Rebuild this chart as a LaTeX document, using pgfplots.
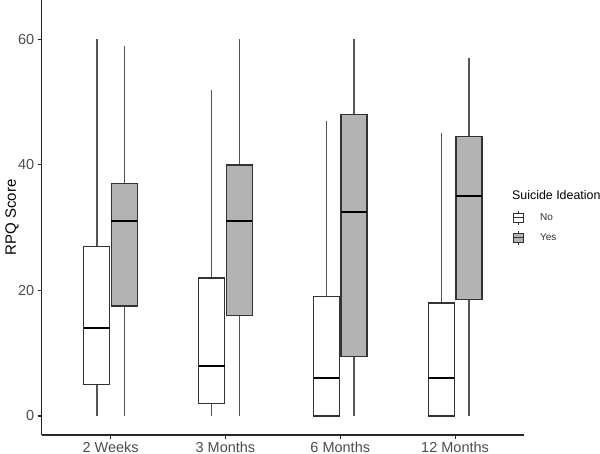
\documentclass[border=0pt]{standalone}
\usepackage{pgfplots}
\pgfplotsset{compat=1.18}
\usepgfplotslibrary{statistics}
\usepackage{fontspec}
\setmainfont{Liberation Sans}
\definecolor{tickgray}{HTML}{4D4D4D}
\definecolor{yesfill}{HTML}{B3B3B3}
\definecolor{boxline}{HTML}{333333}
\definecolor{whisk}{HTML}{555555}
\pgfplotsset{
 nobox/.style={fill=white, draw=boxline, line width=1.3bp, forget plot},
 yesbox/.style={fill=yesfill, draw=boxline, line width=1.3bp, forget plot},
}
\begin{document}
\begin{tikzpicture}
\begin{axis}[
 at={(41.7bp,19bp)}, anchor=south west,
 scale only axis, width=482.3bp, height=435bp,
 xmin=0.4, xmax=4.6, ymin=-3.03, ymax=66.26,
 axis x line*=bottom, axis y line*=left,
 axis line style={line width=1.1bp, black!85},
 xtick={1,2,3,4}, xticklabels={2 Weeks,3 Months,6 Months,12 Months},
 ytick={0,20,40,60},
 tick align=outside, major tick length=4bp,
 tick style={line width=1.1bp, black!85},
 /pgf/number format/assume math mode=true,
 ticklabel style={font=\fontsize{14.5bp}{16bp}\selectfont, text=tickgray},
 xticklabel style={yshift=1bp},
 ylabel={RPQ Score},
 every axis y label/.style={at={(axis description cs:0,0.5)}, xshift=-29.7bp, rotate=90, anchor=center, font=\fontsize{15bp}{17bp}\selectfont},
 boxplot/draw direction=y,
 boxplot/whisker extend=0,
 boxplot/every whisker/.style={line width=1.4bp, draw=whisk},
 boxplot/every box/.style={line width=1.3bp, draw=boxline},
 boxplot/every median/.style={line width=2.2bp, draw=black},
 clip=false,
 legend style={at={(rel axis cs:0.9772,0.517)}, anchor=north west, draw=none, fill=none, inner sep=0pt, font=\fontsize{10bp}{12bp}\selectfont, text=black!80, row sep=5bp, column sep=14bp},
 legend cell align=left,
]
% 2 Weeks
\addplot[boxplot prepared={draw position=0.88, box extend=0.226, lower whisker=0, lower quartile=5, median=14, upper quartile=27, upper whisker=60}, nobox] coordinates {};
\addplot[boxplot prepared={draw position=1.12, box extend=0.226, lower whisker=0, lower quartile=17.5, median=31, upper quartile=37, upper whisker=59}, yesbox] coordinates {};
% 3 Months
\addplot[boxplot prepared={draw position=1.88, box extend=0.226, lower whisker=0, lower quartile=2, median=8, upper quartile=22, upper whisker=52}, nobox] coordinates {};
\addplot[boxplot prepared={draw position=2.12, box extend=0.226, lower whisker=0, lower quartile=16, median=31, upper quartile=40, upper whisker=60}, yesbox] coordinates {};
% 6 Months
\addplot[boxplot prepared={draw position=2.88, box extend=0.226, lower whisker=0, lower quartile=0, median=6, upper quartile=19, upper whisker=47}, nobox] coordinates {};
\addplot[boxplot prepared={draw position=3.12, box extend=0.226, lower whisker=0, lower quartile=9.5, median=32.5, upper quartile=48, upper whisker=60}, yesbox] coordinates {};
% 12 Months
\addplot[boxplot prepared={draw position=3.88, box extend=0.226, lower whisker=0, lower quartile=0, median=6, upper quartile=18, upper whisker=45}, nobox] coordinates {};
\addplot[boxplot prepared={draw position=4.12, box extend=0.226, lower whisker=0, lower quartile=18.5, median=35, upper quartile=44.5, upper whisker=57}, yesbox] coordinates {};
% legend
\addlegendimage{legend image code/.code={
  \draw[line width=0.9bp, boxline, fill=white] (0bp,-4.5bp) rectangle (10bp,4.5bp);
  \draw[line width=0.9bp, boxline] (0bp,0bp) -- (10bp,0bp);
  \draw[line width=0.9bp, boxline] (5bp,4.5bp) -- (5bp,7bp) (5bp,-4.5bp) -- (5bp,-7bp);
}}
\addlegendentry{No}
\addlegendimage{legend image code/.code={
  \draw[line width=0.9bp, boxline, fill=yesfill] (0bp,-4.5bp) rectangle (10bp,4.5bp);
  \draw[line width=0.9bp, boxline] (0bp,0bp) -- (10bp,0bp);
  \draw[line width=0.9bp, boxline] (5bp,4.5bp) -- (5bp,7bp) (5bp,-4.5bp) -- (5bp,-7bp);
}}
\addlegendentry{Yes}
\end{axis}
\node[anchor=west, inner sep=0pt, font=\fontsize{12.4bp}{14bp}\selectfont] at (512bp,259bp) {Suicide Ideation};
\pgfresetboundingbox
\useasboundingbox (0,0) rectangle (600bp,454bp);
\end{tikzpicture}
\end{document}
